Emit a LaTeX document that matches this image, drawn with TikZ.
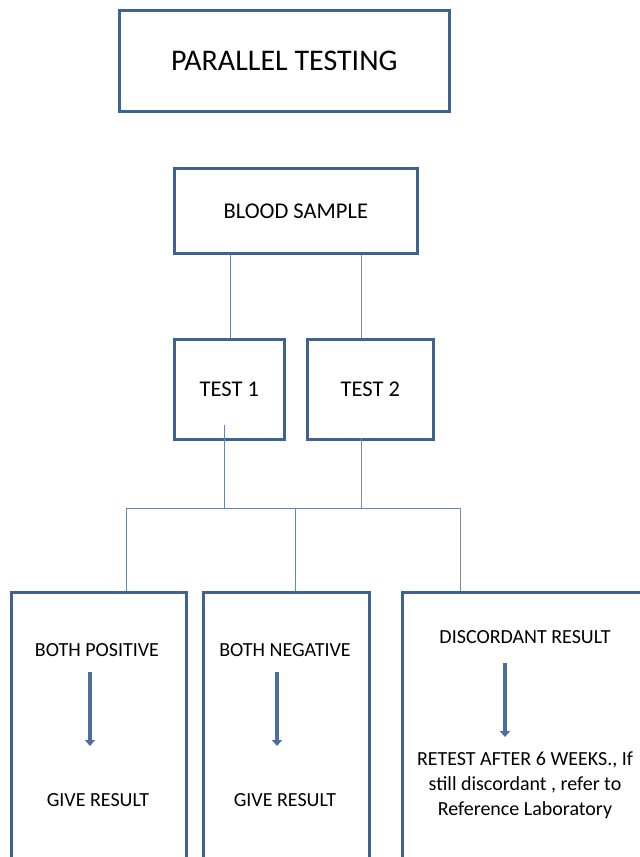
\documentclass[tikz,border=0pt]{standalone}
\usepackage{fontspec}
\setmainfont{Carlito}
\usetikzlibrary{arrows.meta,positioning}
\definecolor{boxblue}{HTML}{3E6393}
\definecolor{linkblue}{HTML}{5B87C5}
\definecolor{linkgray}{HTML}{8A8A8A}
\definecolor{arrowblue}{HTML}{4A6EA0}

\begin{document}
\begin{tikzpicture}[x=1pt,y=-1pt,
  box/.style={draw=boxblue,line width=2.6pt,inner sep=0pt,anchor=north west},
  link/.style={linkblue,line width=1pt},
  greylink/.style={linkgray,line width=1pt},
  downarrow/.style={arrowblue,line width=3.6pt,-{Triangle[length=6pt,width=10pt]}},
  txt/.style={font=\fontsize{20}{25}\selectfont,align=center,inner sep=0pt},
  midtxt/.style={font=\fontsize{22.5}{27}\selectfont,inner sep=0pt}]
  \useasboundingbox (0,0) rectangle (640,857);
  \clip (0,0) rectangle (640,857);

  % title and sample
  \node[box,minimum width=330pt,minimum height=101pt] (title) at (118,9) {};
  \node[font=\fontsize{30}{36}\selectfont] at (title.center) {PARALLEL TESTING};
  \node[box,minimum width=243pt,minimum height=85pt] (blood) at (173,167) {};
  \node[midtxt] at (blood.center) {BLOOD SAMPLE};

  % the two tests
  \node[box,minimum width=110pt,minimum height=100pt] (test1) at (173,338) {};
  \node[box,minimum width=126pt,minimum height=100pt] (test2) at (306,338) {};
  \node[midtxt] at (test1.center) {TEST 1};
  \node[midtxt] at (test2.center) {TEST 2};

  \coordinate (bs1) at (230,300);
  \coordinate (bs2) at (361,300);
  \draw[link] (blood.south -| bs1) -- (bs1 |- test1.north);
  \draw[greylink] (blood.south -| bs2) -- (bs2 |- test2.north);

  % bus to the outcomes
  \coordinate (bl) at (126,508);
  \coordinate (bm) at (295,508);
  \coordinate (br) at (460,508);
  \coordinate (t1in) at (224,425);
  \coordinate (t2out) at (361,438);
  \draw[link] (t1in) -- (t1in |- bl);
  \draw[greylink] (t2out) -- (t2out |- bl);
  \draw[link] (bl) -- (br);

  % outcome boxes
  \node[box,minimum width=175pt,minimum height=300pt] (pos) at (10,591) {};
  \node[box,minimum width=166pt,minimum height=300pt] (neg) at (202,591) {};
  \node[box,minimum width=260pt,minimum height=300pt] (dis) at (401,591) {};
  \draw[link] (bl) -- (bl |- pos.north);
  \draw[link] (bm) -- (bm |- neg.north);
  \draw[greylink] (br) -- (br |- dis.north);

  \node[txt] (posT) at (97,650) {BOTH POSITIVE};
  \node[txt] (posR) at (98,800) {GIVE RESULT};
  \node[txt] (negT) at (285,650) {BOTH NEGATIVE};
  \node[txt] (negR) at (285,800) {GIVE RESULT};
  \node[txt] (disT) at (525,637) {DISCORDANT RESULT};
  \node[txt] (disR) at (525,785) {RETEST AFTER 6 WEEKS., If\\still discordant , refer to\\Reference Laboratory};

  \coordinate (posA) at (90,672);
  \coordinate (negA) at (277,672);
  \coordinate (disA) at (505,663);
  \draw[downarrow] (posA) -- ++(0,74);
  \draw[downarrow] (negA) -- ++(0,74);
  \draw[downarrow] (disA) -- ++(0,74);
\end{tikzpicture}
\end{document}
